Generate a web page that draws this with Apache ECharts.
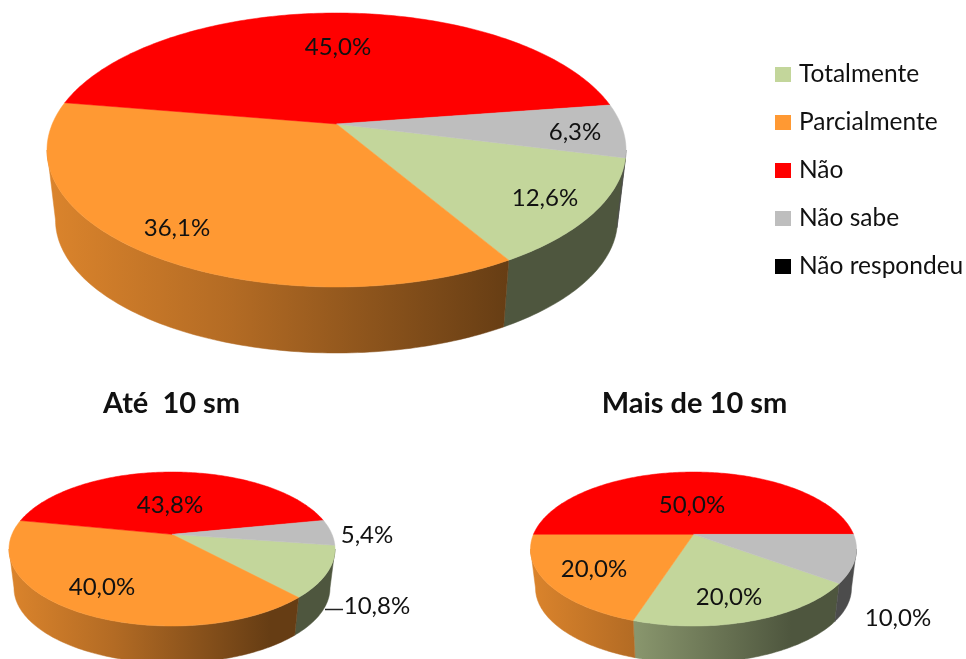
<!DOCTYPE html>
<html><head><meta charset="utf-8">
<style>html,body{margin:0;padding:0;background:#fff}#c{width:966px;height:659px}</style>
<script src="https://cdn.jsdelivr.net/npm/echarts@6/dist/echarts.min.js"></script>
</head><body><div id="c"></div>
<script>
const categories = ['Totalmente', 'Parcialmente', 'Não', 'Não sabe', 'Não respondeu'];
const valuesTotal = [12.6, 36.1, 45.0, 6.3, 0];
const valuesAte10 = [10.8, 40.0, 43.8, 5.4, 0];
const valuesMais10 = [20.0, 20.0, 50.0, 10.0, 0];
const pieTitles = ['', 'Até  10 sm', 'Mais de 10 sm'];

const colors = ['#C3D69B', '#FF9933', '#FF0000', '#BEBEBE', '#000000'];
const FONT = 'Lato, "Open Sans", sans-serif';
const pieValues = [valuesTotal, valuesAte10, valuesMais10];
// layout of each pie: first slice angle, ellipse of top face, ellipse of bottom face
const pies = [
  {first: 104.2, cx: 336.5, cy: 150, rx: 289.5, ry: 137, bcy: 220, brx: 281, bry: 133},
  {first: 98.2,  cx: 172, cy: 549, rx: 163, ry: 77,  bcy: 588, brx: 158, bry: 75},
  {first: 126,   cx: 693.5, cy: 549, rx: 163, ry: 77, bcy: 588, brx: 158, bry: 75}
];
const K = -0.19;
const VIS = Math.asin(-K) * 180 / Math.PI; // angle at which the outline is widest
// label centres, per pie and category
const labelPos = [
  [[545, 198], [177, 228], [338, 47], [575, 132]],
  [[377, 606], [102, 587], [170, 505], [367, 535]],
  [[729, 597], [594, 569], [692, 505], [898, 618]]
];

function project(a, cx, cy, rx, ry) {
  const r = a * Math.PI / 180, u = Math.sin(r), v = -Math.cos(r), d = 1 + K * v;
  return [cx + rx * u * Math.sqrt(1 - K * K) / d, cy + ry * (v + K) / d];
}
function arc(a0, a1, cx, cy, rx, ry) {
  const n = Math.max(2, Math.ceil(Math.abs(a1 - a0))), pts = [];
  for (let i = 0; i <= n; i++) pts.push(project(a0 + (a1 - a0) * i / n, cx, cy, rx, ry));
  return pts;
}
function shade(hex, f) {
  const n = parseInt(hex.slice(1), 16);
  return 'rgb(' + [(n >> 16) & 255, (n >> 8) & 255, n & 255].map(c => Math.round(c * f)).join(',') + ')';
}
function renderSlice(c) {
  return function (params, api) {
    const p = pies[api.value(0)], val = api.value(1), before = api.value(2);
    if (!val) return null;
    const a0 = p.first + before * 3.6, a1 = a0 + val * 3.6;
    const children = [];
    const grad = new echarts.graphic.LinearGradient(p.cx - p.rx, 0, p.cx + p.rx, 0, [
      {offset: 0, color: shade(colors[c], 0.86)},
      {offset: 0.32, color: shade(colors[c], 0.70)},
      {offset: 0.8, color: shade(colors[c], 0.40)},
      {offset: 1, color: shade(colors[c], 0.40)}
    ], true);
    [[90 + VIS, 270 - VIS], [450 + VIS, 630 - VIS]].forEach(w => {
      const s = Math.max(a0, w[0]), e = Math.min(a1, w[1]);
      if (e <= s) return;
      const top = arc(s, e, p.cx, p.cy, p.rx, p.ry);
      const bot = arc(s, e, p.cx, p.bcy, p.brx, p.bry).reverse();
      children.push({type: 'polygon', z2: 1, shape: {points: top.concat(bot)},
        style: {fill: grad, stroke: grad, lineWidth: 0.5}});
    });
    const apex = [p.cx, p.cy + p.ry * K];
    children.push({type: 'polygon', z2: 2, shape: {points: [apex].concat(arc(a0, a1, p.cx, p.cy, p.rx, p.ry))},
      style: {fill: colors[c], stroke: colors[c], lineWidth: 0.5}});
    const lp = labelPos[api.value(0)][c];
    children.push({type: 'text', z2: 3, x: lp[0], y: lp[1], style: {
      text: val.toFixed(1).replace('.', ',') + '%', fill: '#111', font: '24px ' + FONT,
      align: 'center', verticalAlign: 'middle'}});
    return {type: 'group', children};
  };
}
const series = categories.map((name, c) => ({
  type: 'custom', name, coordinateSystem: 'none', silent: true,
  itemStyle: {color: colors[c]},
  renderItem: renderSlice(c),
  data: pieValues.map((vals, i) => [i, vals[c], vals.slice(0, c).reduce((s, x) => s + x, 0)])
}));

const chart = echarts.init(document.getElementById('c'), null, {renderer: 'canvas'});
chart.setOption({
  animation: false,
  backgroundColor: '#fff',
  color: colors,
  title: [1, 2].map(i => ({
    text: pieTitles[i], left: i === 1 ? 171.5 : 694.5, top: 389, textAlign: 'center', padding: 0,
    textStyle: {fontFamily: FONT, fontWeight: 'bold', fontSize: 29, color: '#111'}
  })),
  legend: {
    orient: 'vertical', left: 775, top: 62, padding: 0, icon: 'rect', itemWidth: 16, itemHeight: 15,
    itemGap: 23, selectedMode: false, data: categories, itemStyle: {borderWidth: 0},
    textStyle: {fontFamily: FONT, fontSize: 24.5, lineHeight: 24, color: '#111', padding: [0, 0, 0, 3]}
  },
  graphic: [{type: 'line', shape: {x1: 325, y1: 609.5, x2: 343, y2: 609.5}, style: {stroke: '#222', lineWidth: 1.5}}],
  series
});
</script></body></html>
